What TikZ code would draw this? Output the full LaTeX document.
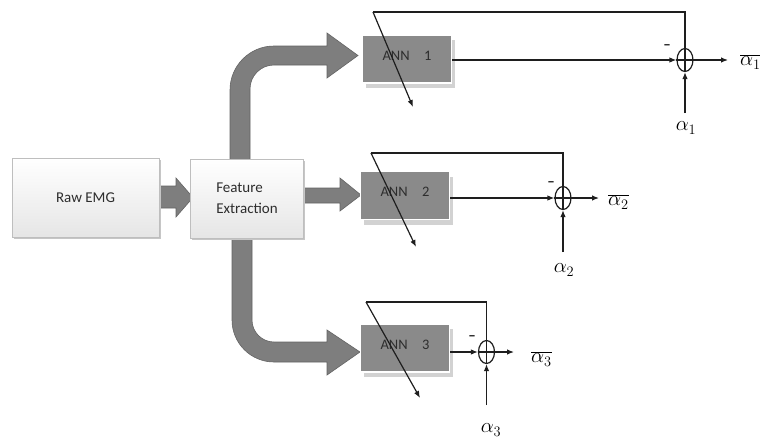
\documentclass[tikz,border=0pt]{standalone}
\usepackage{fontspec}
\setmainfont{Carlito}
\usetikzlibrary{arrows.meta,shapes.geometric,shadows}
\definecolor{arrgray}{RGB}{126,126,126}
\definecolor{arredge}{RGB}{100,100,100}
\definecolor{anngray}{RGB}{138,138,138}
\definecolor{annshadow}{RGB}{210,210,210}
\definecolor{boxedge}{RGB}{190,190,190}
\definecolor{txtgray}{RGB}{45,45,45}
\definecolor{wirecol}{RGB}{30,30,30}
\begin{document}
\begin{tikzpicture}[x=1pt,y=-1pt,
  lightbox/.style={draw=boxedge, line width=0.8pt, top color=white, bottom color=gray!20,
    inner sep=0pt, font=\fontsize{15}{21}\selectfont, text=txtgray,
    drop shadow={shadow xshift=1.5pt, shadow yshift=-2pt, fill=gray!45, opacity=1}},
  annbox/.style={fill=anngray, draw=white, line width=1.6pt, minimum width=89pt, minimum height=48pt,
    inner sep=0pt, text depth=7pt, font=\fontsize{14.5}{17}\selectfont, text=txtgray,
    drop shadow={shadow xshift=3.5pt, shadow yshift=-5pt, fill=annshadow, opacity=1}},
  blockarrow/.style={fill=arrgray, draw=arredge, line width=0.6pt},
  wire/.style={line width=1.2pt, draw=wirecol},
  tip/.style={-{Latex[length=7pt,width=5.5pt]}},
  sumj/.style={ellipse, draw=wirecol, line width=1.2pt, minimum width=16pt, minimum height=23pt, inner sep=0pt},
  alab/.style={font=\fontsize{22}{24}\selectfont, inner sep=0pt},
  minus/.style={font=\fontsize{15}{16}\selectfont\bfseries, inner sep=0pt, text=wirecol}]
\useasboundingbox (0,0) rectangle (760,439);

% block arrows
\draw[blockarrow] (158,186) -- (176,186) -- (176,178) -- (193,197.5) -- (176,217) -- (176,208) -- (158,208) -- cycle;
\draw[blockarrow] (302,188) -- (340,188) -- (340,178) -- (361,195) -- (340,211) -- (340,203) -- (302,203) -- cycle;
\draw[blockarrow] (230,160) [rounded corners=44pt] -- (230,46) [sharp corners] -- (327,46) -- (327,33) -- (358,55.5)
   -- (327,78) -- (327,65) [rounded corners=24pt] -- (250,65) [sharp corners] -- (250,160) -- cycle;
\draw[blockarrow] (232,237) [rounded corners=42pt] -- (232,362) [sharp corners] -- (327,362) -- (327,375) -- (360,352)
   -- (327,330) -- (327,342) [rounded corners=22pt] -- (252,342) [sharp corners] -- (252,237) -- cycle;

% boxes
\node[lightbox, minimum width=147pt, minimum height=79pt] (raw) at (85.5,197.5) {Raw EMG};
\node[lightbox, minimum width=113pt, minimum height=79pt, align=left] (feat) at (247,198.5) {Feature\\Extraction};

\node[annbox] (ann1) at (407,59) {ANN\quad 1};
\node[annbox] (ann2) at (405,195.5) {ANN\quad 2};
\node[annbox] (ann3) at (405,348) {ANN\quad 3};

% summing junctions
\node[sumj] (s1) at (685,60) {};
\node[sumj] (s2) at (563,198) {};
\node[sumj] (s3) at (486.5,352) {};

% coordinates
\coordinate (fb1) at (373,12);
\coordinate (fb2) at (371,153);
\coordinate (fb3) at (366,302);
\coordinate (d1) at (413,107);
\coordinate (d2) at (416,247);
\coordinate (d3) at (420,398);
\coordinate (o1) at (728,60);
\coordinate (o2) at (599,198);
\coordinate (o3) at (514,352);
\coordinate (i1) at (685,113);
\coordinate (i2) at (563,252);
\coordinate (i3) at (486.5,405);

% labels
\node[alab, anchor=west] (ob1) at (740,62) {$\overline{\alpha_1}$};
\node[alab, anchor=west] (ob2) at (608,202) {$\overline{\alpha_2}$};
\node[alab, anchor=west] (ob3) at (531,359) {$\overline{\alpha_3}$};
\node[alab] (al1) at (686,128) {$\alpha_1$};
\node[alab] (al2) at (564,270) {$\alpha_2$};
\node[alab] (al3) at (491,430) {$\alpha_3$};
\node[minus] (m1) at (667,47) {–};
\node[minus] (m2) at (551,184) {–};
\node[minus] (m3) at (472,338) {–};

% wires
\foreach \k in {1,2,3}{
  \draw[wire] (fb\k) -| (s\k.north);
  \draw[wire,tip] (fb\k) -- (d\k);
  \draw[wire,tip] (ann\k.east |- s\k) -- (s\k.west);
  \draw[wire] (s\k.north) -- (s\k.south) (s\k.west) -- (s\k.east);
  \draw[wire,tip] (s\k.east) -- (o\k);
  \draw[wire,tip] (i\k) -- (s\k.south);
}
\end{tikzpicture}
\end{document}
